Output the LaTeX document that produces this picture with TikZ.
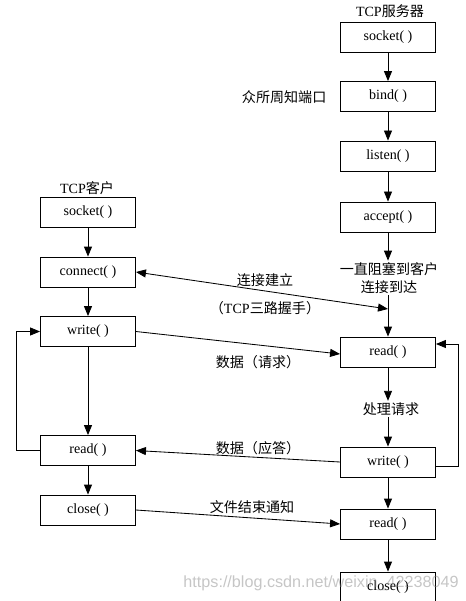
\documentclass[tikz,border=0pt]{standalone}
\usepackage{fontspec}
\setmainfont{Liberation Serif}
\newfontfamily\cjk{Noto Sans CJK SC}
\newfontfamily\wmfont{Liberation Sans}
\usetikzlibrary{arrows.meta}
\tikzset{fbox/.style={draw,line width=0.6pt,minimum width=2.375cm,minimum height=0.75cm,inner sep=0pt}}
\tikzset{flow/.style={line width=0.6pt,-{Triangle[length=2.5mm,width=2mm]}}}
\tikzset{flowb/.style={line width=0.6pt,{Triangle[length=2.5mm,width=2mm]}-{Triangle[length=2.5mm,width=2mm]}}}
\tikzset{lbl/.style={inner sep=1pt,font=\cjk\fontsize{10}{13}\selectfont}}

\begin{document}
\begin{tikzpicture}[x=0.025cm,y=-0.025cm,font=\fontsize{10}{12}\selectfont]
                \useasboundingbox (0,0) rectangle (466,601);

                % Server
                \node[inner sep=1pt] (stitle) at (390,11) {TCP{\cjk 服务器}};
                \node[fbox] (ssocket) at (388,37.5) {socket( )};
                \node[fbox] (sbind) at (388,96.5) {bind( )};
                \node[fbox] (slisten) at (388,156) {listen( )};
                \node[fbox] (saccept) at (388,217) {accept( )};
                \node[lbl,align=center] (swait) at (389,278) {一直阻塞到客户\\连接到达};
                \node[fbox] (sread) at (388,352) {read( )};
                \node[lbl] (sproc) at (391,409) {处理请求};
                \node[fbox] (swrite) at (388,462) {write( )};
                \node[fbox] (sread2) at (388,524) {read( )};
                \node[fbox] (sclose) at (388,587) {close( )};
                \node[lbl,anchor=east] (sport) at (328,97) {众所周知端口};
                \coordinate (shake) at (388,309);

                % Client
                \node[inner sep=1pt] (ctitle) at (87,188) {TCP{\cjk 客户}};
                \node[fbox] (csocket) at (88,212.5) {socket( )};
                \node[fbox] (cconnect) at (88,272) {connect( )};
                \node[fbox] (cwrite) at (88,331.5) {write( )};
                \node[fbox] (cread) at (88,450.5) {read( )};
                \node[fbox] (cclose) at (88,510) {close( )};

                % Server flow
                \draw[flow] (ssocket) -- (sbind);
                \draw[flow] (sbind) -- (slisten);
                \draw[flow] (slisten) -- (saccept);
                \draw[flow] (saccept) -- (saccept |- swait.north);
                \draw[flow] (saccept |- swait.south) -- (sread);
                \draw[flow] (sread) -- (sread |- sproc.north);
                \draw[flow] (sread |- sproc.south) -- (swrite);
                \draw[flow] (swrite) -- (sread2);
                \draw[flow] (sread2) -- (sclose);
                \draw[flow] ([yshift=-1.2mm]swrite.east) -- ++(22,0) |- ([yshift=2mm]sread.east);

                % Client flow
                \draw[flow] (csocket) -- (cconnect);
                \draw[flow] (cconnect) -- (cwrite);
                \draw[flow] (cwrite) -- (cread);
                \draw[flow] (cread) -- (cclose);
                \draw[flow] (cread.west) -- ++(-24,0) |- (cwrite.west);

                % Exchange
                \draw[flowb] (cconnect.east) -- (shake);
                \draw[flow] (cwrite.east) -- ([yshift=-0.5mm]sread.west);
                \draw[flow] (swrite.west) -- (cread.east);
                \draw[flow] (cclose.east) -- (sread2.west);

                % Labels
                \node[lbl] (lconn) at (265,280) {连接建立};
                \node[inner sep=1pt] (lshake) at (265,308) {{\cjk （}TCP{\cjk 三路握手）}};
                \node[lbl] (lreq) at (258,362) {数据（请求）};
                \node[lbl] (lans) at (258,448) {数据（应答）};
                \node[lbl] (leof) at (252,507) {文件结束通知};

                % Watermark
                \node[inner sep=0pt,text=gray,opacity=0.45,font=\wmfont\fontsize{11.5}{13}\selectfont] (wmark) at (321,583) {https://blog.csdn.net/weixin\_42238049};
\end{tikzpicture}
\end{document}
